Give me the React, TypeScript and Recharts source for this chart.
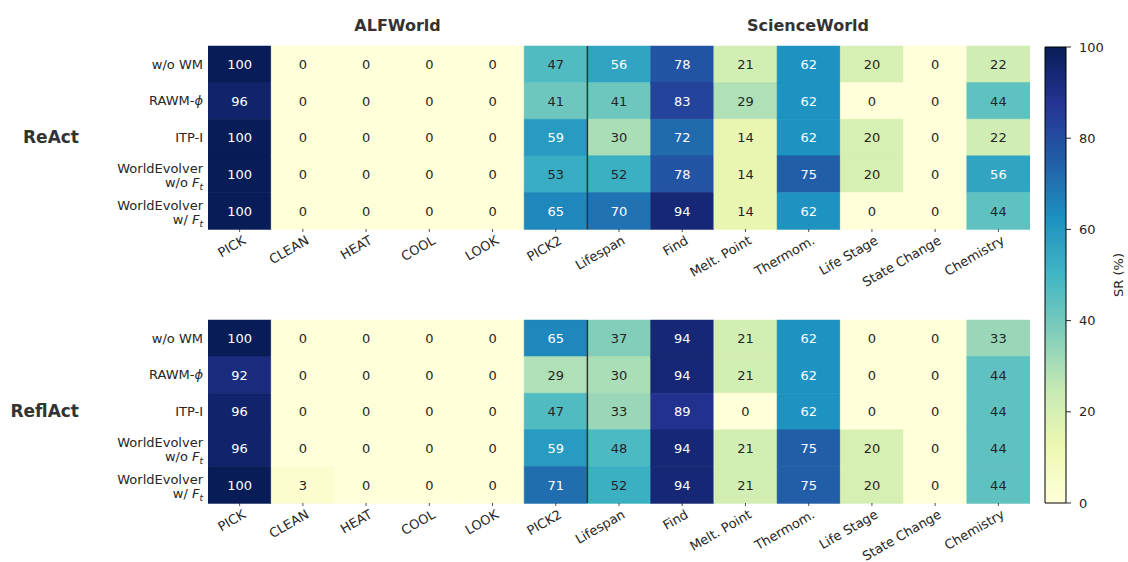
import React from 'react';
import { BarChart, Bar, XAxis, YAxis, Cell, LabelList, ReferenceLine } from 'recharts';

const COLUMNS = ['PICK', 'CLEAN', 'HEAT', 'COOL', 'LOOK', 'PICK2', 'Lifespan', 'Find', 'Melt. Point', 'Thermom.', 'Life Stage', 'State Change', 'Chemistry'];
const METHODS = ['w/o WM', 'RAWM-ϕ', 'ITP-I', 'WorldEvolver\nw/o F_t', 'WorldEvolver\nw/ F_t'];
const ENV_GROUPS = ['ALFWorld', 'ScienceWorld'];
const AGENTS = ['ReAct', 'ReflAct'];

const REACT_WO_WM = [100, 0, 0, 0, 0, 47, 56, 78, 21, 62, 20, 0, 22];
const REACT_RAWM = [96, 0, 0, 0, 0, 41, 41, 83, 29, 62, 0, 0, 44];
const REACT_ITP = [100, 0, 0, 0, 0, 59, 30, 72, 14, 62, 20, 0, 22];
const REACT_WE_WO_F = [100, 0, 0, 0, 0, 53, 52, 78, 14, 75, 20, 0, 56];
const REACT_WE_W_F = [100, 0, 0, 0, 0, 65, 70, 94, 14, 62, 0, 0, 44];

const REFLACT_WO_WM = [100, 0, 0, 0, 0, 65, 37, 94, 21, 62, 0, 0, 33];
const REFLACT_RAWM = [92, 0, 0, 0, 0, 29, 30, 94, 21, 62, 0, 0, 44];
const REFLACT_ITP = [96, 0, 0, 0, 0, 47, 33, 89, 0, 62, 0, 0, 44];
const REFLACT_WE_WO_F = [96, 0, 0, 0, 0, 59, 48, 94, 21, 75, 20, 0, 44];
const REFLACT_WE_W_F = [100, 3, 0, 0, 0, 71, 52, 94, 21, 75, 20, 0, 44];

const CB_TICKS = [0, 20, 40, 60, 80, 100];
const CB_LABEL = 'SR (%)';

const YLGNBU = ['#ffffd9', '#edf8b1', '#c7e9b4', '#7fcdbb', '#41b6c4', '#1d91c0', '#225ea8', '#253494', '#081d58'];
const FONT = '"DejaVu Sans", sans-serif';
const TEXT = '#262626';

function hexToRgb(h: string) {
  return [parseInt(h.slice(1, 3), 16), parseInt(h.slice(3, 5), 16), parseInt(h.slice(5, 7), 16)];
}
function cmap(v: number) {
  const t = Math.max(0, Math.min(1, v / 100));
  const pos = t * (YLGNBU.length - 1);
  const i = Math.min(YLGNBU.length - 2, Math.floor(pos));
  const f = pos - i;
  const a = hexToRgb(YLGNBU[i]);
  const b = hexToRgb(YLGNBU[i + 1]);
  const c = a.map((x, k) => Math.round(x + (b[k] - x) * f));
  return `rgb(${c[0]},${c[1]},${c[2]})`;
}
function textColor(v: number) {
  return v > 55 ? '#ffffff' : TEXT;
}

function renderLine(line: string, key: number, x: number, y: number) {
  const parts = line.split('F_t');
  if (parts.length > 1) {
    return (
      <text key={key} x={x} y={y} textAnchor="end" fontSize={13} fontFamily={FONT} fill={TEXT}>
        {parts[0]}
        <tspan fontStyle="italic">F</tspan>
        <tspan fontStyle="italic" fontSize={9} dy={3}>t</tspan>
      </text>
    );
  }
  const phi = line.split('ϕ');
  if (phi.length > 1) {
    return (
      <text key={key} x={x} y={y} textAnchor="end" fontSize={13} fontFamily={FONT} fill={TEXT}>
        {phi[0]}
        <tspan fontStyle="italic">ϕ</tspan>
      </text>
    );
  }
  return (
    <text key={key} x={x} y={y} textAnchor="end" fontSize={13} fontFamily={FONT} fill={TEXT}>
      {line}
    </text>
  );
}

function YTick(props: any) {
  const { x, y, payload } = props;
  const lines = String(payload.value).split('\n');
  if (lines.length === 1) return <g>{renderLine(lines[0], 0, x, y + 4.5)}</g>;
  return (
    <g>
      {renderLine(lines[0], 0, x, y - 1)}
      {renderLine(lines[1], 1, x, y + 13)}
    </g>
  );
}

function XTick(props: any) {
  const { x, y, payload } = props;
  const name = COLUMNS[Math.floor(payload.value)];
  const ax = x + 7;
  const ay = y + 9;
  return (
    <text x={ax} y={ay} textAnchor="end" transform={`rotate(-30 ${ax} ${ay})`} fontSize={13} fontFamily={FONT} fill={TEXT}>
      {name}
    </text>
  );
}

function CellLabel(props: any) {
  const { x, y, width, height, value } = props;
  return (
    <text x={x + width / 2} y={y + height / 2 + 4.7} textAnchor="middle" fontSize={13} fontFamily={FONT} fill={textColor(Number(value))}>
      {value}
    </text>
  );
}

function Heatmap({ rows, marginTop, xAxisHeight, height }: { rows: number[][]; marginTop: number; xAxisHeight: number; height: number }) {
  const data = METHODS.map((m, i) => {
    const row: any = { method: m };
    COLUMNS.forEach((_, j) => {
      row[`w${j}`] = 1;
      row[`v${j}`] = rows[i][j];
    });
    return row;
  });
  return (
    <BarChart
      width={1128}
      height={height}
      data={data}
      layout="vertical"
      margin={{ top: marginTop, right: 98, bottom: 0, left: 8 }}
      barCategoryGap={0}
      barGap={0}
    >
      <XAxis
        type="number"
        domain={[0, COLUMNS.length]}
        allowDataOverflow
        ticks={COLUMNS.map((_, j) => j + 0.5)}
        interval={0}
        height={xAxisHeight}
        axisLine={false}
        tickSize={3}
        tickLine={{ stroke: TEXT, strokeWidth: 0.8 }}
        tick={(p: any) => <XTick {...p} />}
      />
      <YAxis
        type="category"
        dataKey="method"
        width={200}
        axisLine={false}
        tickLine={false}
        tickSize={0}
        tickMargin={5}
        interval={0}
        tick={(p: any) => <YTick {...p} />}
      />
      {COLUMNS.map((c, j) => (
        <Bar key={c} dataKey={`w${j}`} stackId="s" isAnimationActive={false}>
          {data.map((d, i) => (
            <Cell key={i} fill={cmap(d[`v${j}`])} stroke={cmap(d[`v${j}`])} strokeWidth={0.5} />
          ))}
          <LabelList dataKey={`v${j}`} content={(p: any) => <CellLabel {...p} />} />
        </Bar>
      ))}
      <ReferenceLine x={6} stroke="#333333" strokeWidth={1.5} />
    </BarChart>
  );
}

function ColorBar() {
  return (
    <BarChart
      width={128}
      height={562}
      data={[{ k: 'SR', v: 100 }]}
      margin={{ top: 47, right: 0, bottom: 59, left: 45 }}
      barCategoryGap={0}
      barGap={0}
    >
      <defs>
        <linearGradient id="cbgrad" x1="0" y1="1" x2="0" y2="0">
          {YLGNBU.map((c, i) => (
            <stop key={i} offset={`${(i / (YLGNBU.length - 1)) * 100}%`} stopColor={c} />
          ))}
        </linearGradient>
      </defs>
      <XAxis dataKey="k" hide />
      <YAxis
        orientation="right"
        type="number"
        domain={[0, 100]}
        ticks={CB_TICKS}
        interval={0}
        width={62}
        axisLine={false}
        tickSize={5}
        tickMargin={8}
        tickLine={{ stroke: TEXT }}
        tick={{ fill: TEXT, fontSize: 13, fontFamily: FONT }}
      />
      <Bar dataKey="v" fill="url(#cbgrad)" stroke="#000000" strokeWidth={1} isAnimationActive={false} />
    </BarChart>
  );
}

export default function App() {
  return (
    <div style={{ position: 'absolute', left: 0, top: 0, width: 1128, height: 562, background: '#ffffff', fontFamily: FONT, overflow: 'hidden' }}>
      <div style={{ position: 'absolute', left: 0, top: 0 }}>
        <Heatmap rows={[REACT_WO_WM, REACT_RAWM, REACT_ITP, REACT_WE_WO_F, REACT_WE_W_F]} marginTop={46} xAxisHeight={101} height={330} />
      </div>
      <div style={{ position: 'absolute', left: 0, top: 281 }}>
        <Heatmap rows={[REFLACT_WO_WM, REFLACT_RAWM, REFLACT_ITP, REFLACT_WE_WO_F, REFLACT_WE_W_F]} marginTop={39} xAxisHeight={79} height={301} />
      </div>
      <div style={{ position: 'absolute', left: 1000, top: 0 }}>
        <ColorBar />
      </div>
      <svg width={1128} height={562} style={{ position: 'absolute', left: 0, top: 0, pointerEvents: 'none' }}>
        <text x={397.5} y={30.8} textAnchor="middle" fontSize={16} fontWeight="bold" fontFamily={FONT} fill="#333333">{ENV_GROUPS[0]}</text>
        <text x={808} y={30.8} textAnchor="middle" fontSize={16} fontWeight="bold" fontFamily={FONT} fill="#333333">{ENV_GROUPS[1]}</text>
        <text x={79} y={143.2} textAnchor="end" fontSize={17} fontWeight="bold" fontFamily={FONT} fill="#333333">{AGENTS[0]}</text>
        <text x={79} y={417.2} textAnchor="end" fontSize={17} fontWeight="bold" fontFamily={FONT} fill="#333333">{AGENTS[1]}</text>
        <text x={1122.7} y={275} textAnchor="middle" transform="rotate(-90 1122.7 275)" fontSize={13} fontFamily={FONT} fill={TEXT}>{CB_LABEL}</text>
      </svg>
    </div>
  );
}
